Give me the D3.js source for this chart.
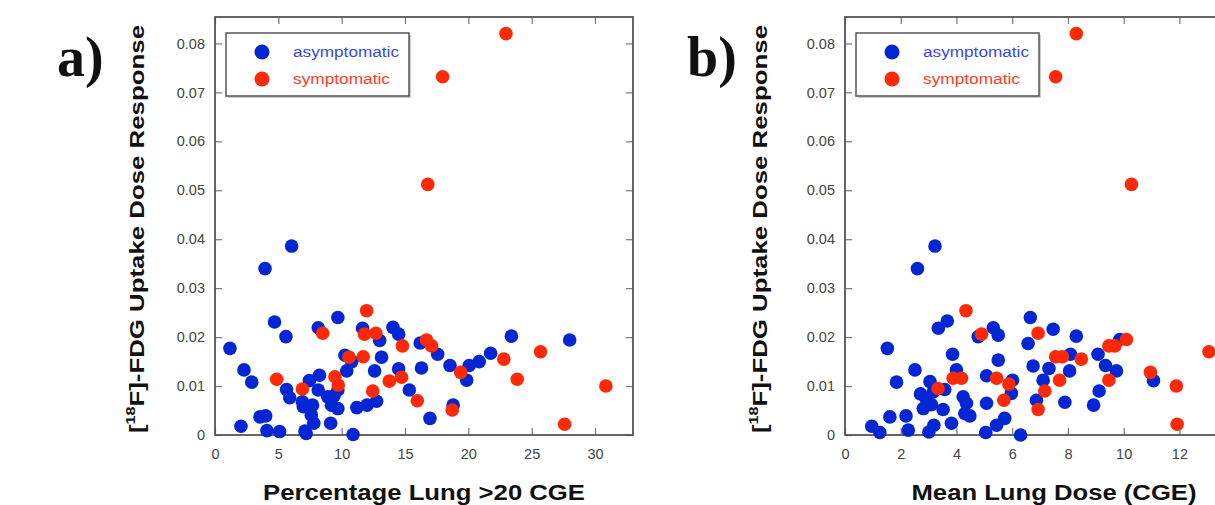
<!DOCTYPE html>
<html lang="en">
  <head>
    <meta charset="utf-8">
    <title>FDG uptake vs dose</title>
    <script src="https://cdn.jsdelivr.net/npm/d3@7"></script>
    <style>
      body { margin: 0; background: #fff; }
    </style>
  </head>
  <body>
    <script>
      // panel a: percentage lung > 20 CGE
      var aAsymX = [6.05, 3.95, 4.7, 5.6, 1.18, 2.29, 2.9, 2.05, 3.55, 4.0, 4.1, 5.1, 5.65, 5.9, 6.97, 7.2, 7.45, 7.7, 7.6, 7.8,
                    8.15, 8.15, 8.25, 8.9, 9.13, 9.2, 9.7, 9.7, 9.7, 10.26, 10.4, 10.8, 10.9, 11.2, 12.0, 12.76, 11.65, 12.6, 13.0, 13.15,
                    14.05, 14.5, 14.5, 15.34, 16.2, 16.3, 16.97, 17.58, 18.55, 18.8, 19.87, 20.07, 20.86, 21.76, 23.4, 28.0, 6.9, 7.1, 9.4];
      var aAsymY = [0.0386, 0.0340, 0.0231, 0.0201, 0.0177, 0.0133, 0.0108, 0.0018, 0.0037, 0.0039, 0.0009, 0.0007, 0.0093, 0.0076, 0.0058, 0.0003, 0.0111, 0.0061, 0.0041, 0.0024,
                    0.0219, 0.0092, 0.0122, 0.0078, 0.0024, 0.0061, 0.0054, 0.0240, 0.0092, 0.0163, 0.0131, 0.0150, 0.0001, 0.0056, 0.0061, 0.0069, 0.0218, 0.0131, 0.0193, 0.0159,
                    0.0220, 0.0206, 0.0135, 0.0092, 0.0188, 0.0137, 0.0034, 0.0165, 0.0142, 0.0061, 0.0112, 0.0142, 0.0150, 0.0167, 0.0202, 0.0194, 0.0068, 0.0008, 0.0080];
      var aSympX = [22.97, 17.97, 16.8, 11.97, 8.5, 11.8, 12.7, 14.8, 16.7, 17.1, 10.58, 11.7, 4.87, 6.9, 9.47, 9.73, 13.76, 14.73,
                    12.45, 15.97, 18.73, 19.4, 22.8, 23.86, 25.7, 27.6, 30.86];
      var aSympY = [0.0820, 0.0732, 0.0512, 0.0254, 0.0208, 0.0206, 0.0208, 0.0182, 0.0194, 0.0182, 0.0159, 0.0160, 0.0114, 0.0094, 0.0119, 0.0102, 0.0110, 0.0118,
                    0.0090, 0.0070, 0.0051, 0.0128, 0.0155, 0.0114, 0.0170, 0.0022, 0.0100];

      // panel b: mean lung dose (CGE)
      var bAsymX = [3.23, 2.6, 3.35, 3.67, 1.52, 2.51, 1.85, 0.96, 1.25, 1.61, 2.19, 2.27, 3.05, 2.71, 2.93, 2.81, 3.17, 3.58, 3.52, 3.01,
                    3.19, 3.82, 3.86, 4.0, 4.24, 4.36, 4.3, 4.48, 4.78, 5.08, 5.08, 5.05, 5.32, 5.5, 5.5, 5.44, 5.73, 6.01, 5.97, 6.3,
                    6.65, 6.57, 6.75, 6.87, 7.11, 7.32, 7.47, 7.89, 8.09, 8.06, 8.3, 8.92, 9.12, 9.08, 9.35, 9.74, 9.86, 11.07, 3.1];
      var bAsymY = [0.0386, 0.0340, 0.0218, 0.0233, 0.0177, 0.0133, 0.0108, 0.0018, 0.0005, 0.0037, 0.0039, 0.0010, 0.0109, 0.0084, 0.0071, 0.0054, 0.0088, 0.0093, 0.0052, 0.0006,
                    0.0020, 0.0024, 0.0165, 0.0133, 0.0078, 0.0065, 0.0044, 0.0039, 0.0201, 0.0121, 0.0065, 0.0005, 0.0219, 0.0204, 0.0153, 0.0020, 0.0034, 0.0112, 0.0085, 0.0000,
                    0.0240, 0.0187, 0.0141, 0.0071, 0.0112, 0.0136, 0.0216, 0.0067, 0.0165, 0.0131, 0.0202, 0.0061, 0.0090, 0.0165, 0.0142, 0.0131, 0.0195, 0.0111, 0.0062];
      var bSympX = [8.3, 7.56, 10.28, 4.34, 4.9, 6.93, 3.88, 4.18, 3.34, 5.44, 5.88, 5.7, 6.93, 7.17, 7.56, 7.8, 7.7, 8.48, 9.47, 9.68,
                    9.47, 10.1, 10.96, 11.89, 11.92, 13.06];
      var bSympY = [0.0820, 0.0732, 0.0512, 0.0254, 0.0206, 0.0208, 0.0116, 0.0116, 0.0095, 0.0116, 0.0104, 0.0071, 0.0052, 0.0090, 0.0160, 0.0160, 0.0112, 0.0155, 0.0182, 0.0182,
                    0.0112, 0.0195, 0.0128, 0.0100, 0.0022, 0.0170];

      var yTicks = [0, 0.01, 0.02, 0.03, 0.04, 0.05, 0.06, 0.07, 0.08];
      var aTicks = [0, 5, 10, 15, 20, 25, 30];
      var bTicks = [0, 2, 4, 6, 8, 10, 12];   // 14 falls past the window edge
      var seriesNames = ["asymptomatic", "symptomatic"];

      var blue = "#0326d4";
      var red = "#ff2a05";
      var frameColor = "#555";
      var sans = "Arial, 'Liberation Sans', sans-serif";

      var svg = d3.select("body").append("svg")
        .attr("width", 1215)
        .attr("height", 505)
        .style("font-family", sans);

      var size = 418, plotTop = 17;

      function zip(xs, ys) {
        return xs.map(function(d, i) { return [d, ys[i]]; });
      }

      function drawPanel(opt) {
        var x = d3.scaleLinear().domain([0, opt.xMax]).range([0, size]);
        var y = d3.scaleLinear().domain([0, 0.0854]).range([size, 0]);

        var g = svg.append("g").attr("transform", "translate(" + opt.left + "," + plotTop + ")");

        var axB = g.append("g")
          .attr("transform", "translate(0," + size + ")")
          .call(d3.axisBottom(x).tickValues(opt.xTicks).tickSize(-7).tickPadding(14).tickFormat(d3.format("d")));
        var axL = g.append("g")
          .call(d3.axisLeft(y).tickValues(yTicks).tickSize(-7).tickPadding(10)
            .tickFormat(function(d) { return d === 0 ? "0" : d.toFixed(2); }));
        var axT = g.append("g")
          .call(d3.axisTop(x).tickValues(opt.xTicks).tickSize(-7).tickFormat(""));
        var axR = g.append("g")
          .attr("transform", "translate(" + size + ",0)")
          .call(d3.axisRight(y).tickValues(yTicks).tickSize(-7).tickFormat(""));

        [axB, axL, axT, axR].forEach(function(ax) {
          ax.select(".domain").remove();
          ax.selectAll("line").attr("stroke", "#777").attr("stroke-width", 1.2);
          ax.selectAll("text").attr("font-size", 14.5).attr("fill", "#444")
            .attr("font-family", sans);
        });

        g.append("rect")
          .attr("width", size).attr("height", size)
          .attr("fill", "none")
          .attr("stroke", frameColor)
          .attr("stroke-width", 1.8);

        // blue first, red drawn on top
        g.selectAll(".asym")
          .data(zip(opt.asymX, opt.asymY))
          .enter().append("circle")
          .attr("class", "asym")
          .attr("cx", function(d) { return x(d[0]); })
          .attr("cy", function(d) { return y(d[1]); })
          .attr("r", 6.8)
          .attr("fill", blue);

        g.selectAll(".sym")
          .data(zip(opt.symX, opt.symY))
          .enter().append("circle")
          .attr("class", "sym")
          .attr("cx", function(d) { return x(d[0]); })
          .attr("cy", function(d) { return y(d[1]); })
          .attr("r", 6.8)
          .attr("fill", red);

        // legend
        var lg = g.append("g").attr("transform", "translate(11,16)");
        lg.append("rect")
          .attr("x", 2).attr("y", 2)
          .attr("width", 183).attr("height", 63)
          .attr("fill", "#ccc");
        lg.append("rect")
          .attr("width", 183).attr("height", 63)
          .attr("fill", "#fff")
          .attr("stroke", frameColor)
          .attr("stroke-width", 1.5);
        [blue, red].forEach(function(c, i) {
          lg.append("circle")
            .attr("cx", 36).attr("cy", 19 + i * 27)
            .attr("r", 7.5).attr("fill", c);
          lg.append("text")
            .attr("x", 67).attr("y", 19 + i * 27)
            .attr("dy", "0.35em")
            .attr("font-size", 15.5)
            .attr("textLength", i === 0 ? 106 : 97)
            .attr("lengthAdjust", "spacingAndGlyphs")
            .attr("fill", i === 0 ? "#3848e6" : "#ff3b2b")
            .text(seriesNames[i]);
        });

        // x title
        svg.append("text")
          .attr("x", opt.left + size / 2)
          .attr("y", 500)
          .attr("text-anchor", "middle")
          .attr("font-size", 22)
          .attr("font-weight", "bold")
          .attr("textLength", opt.xTitleLen)
          .attr("lengthAdjust", "spacingAndGlyphs")
          .attr("fill", "#111")
          .text(opt.xTitle);

        // y title
        var yt = svg.append("text")
          .attr("transform", "translate(" + opt.yTitleX + "," + (plotTop + size / 2 + 3) + ") rotate(-90)")
          .attr("text-anchor", "middle")
          .attr("font-size", 21)
          .attr("font-weight", "bold")
          .attr("textLength", 408)
          .attr("lengthAdjust", "spacingAndGlyphs")
          .attr("fill", "#111");
        yt.append("tspan").text("[");
        yt.append("tspan").attr("font-size", 13).attr("dy", -9).text("18");
        yt.append("tspan").attr("dy", 9).text("F]-FDG Uptake Dose Response");

        // panel letter
        svg.append("text")
          .attr("x", opt.left - 158)
          .attr("y", 76)
          .style("font-family", "'Liberation Serif', 'Times New Roman', serif")
          .attr("font-size", 56)
          .attr("font-weight", "bold")
          .attr("fill", "#111")
          .text(opt.letter);
      }

      drawPanel({ left: 215, xMax: 33, xTicks: aTicks, asymX: aAsymX, asymY: aAsymY, symX: aSympX, symY: aSympY,
                  xTitle: "Percentage Lung >20 CGE", xTitleLen: 322, yTitleX: 144, letter: "a)" });
      drawPanel({ left: 845, xMax: 15, xTicks: bTicks, asymX: bAsymX, asymY: bAsymY, symX: bSympX, symY: bSympY,
                  xTitle: "Mean Lung Dose (CGE)", xTitleLen: 285, yTitleX: 767, letter: "b)" });
    </script>
  </body>
</html>
